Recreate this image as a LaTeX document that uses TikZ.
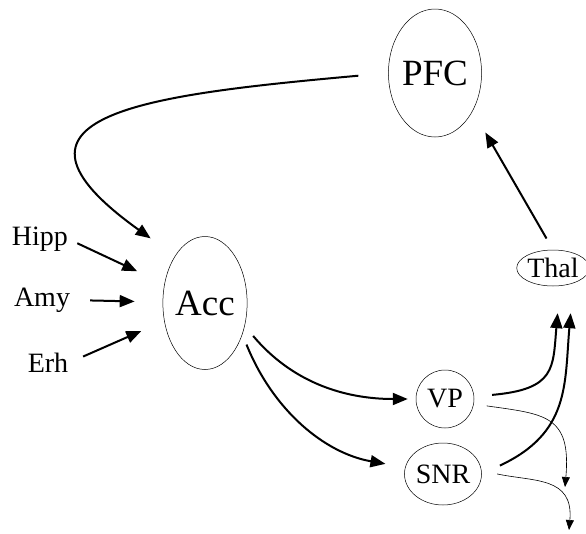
\documentclass[tikz,border=0pt]{standalone}
\usepackage{fontspec}
\setmainfont{Liberation Serif}
\usetikzlibrary{shapes.geometric,arrows.meta}

\begin{document}
\begin{tikzpicture}
[x=1pt,y=1pt,
  regiondecorate/.style={shape=ellipse,draw,line width=0.5pt,inner sep=0pt},
  bigfont/.style={font=\fontsize{37}{40}\selectfont},
  smallfont/.style={font=\fontsize{28}{30}\selectfont},
  linedecorate/.style={-{Triangle[length=15pt,width=12pt]},line width=2pt},
  thinlinedecorate/.style={-{Triangle[length=10pt,width=8pt]},line width=0.6pt}]
\useasboundingbox (0,0) rectangle (586,-533);
%% nodes or vertices
\foreach \nodename/\x/\y/\w/\h/\fontstyle in {PFC/435/-73/84/128/bigfont,
  Acc/205/-303/80/133/bigfont, Thal/553/-268/64/36/smallfont,
  VP/445/-399/58/58/smallfont, SNR/443/-474/62/62/smallfont}
{
  \node (\nodename) at (\x,\y) [regiondecorate,\fontstyle,minimum width=\w,minimum height=\h] {\nodename};
}
\foreach \nodename/\x/\y in {Hipp/40/-239, Amy/42/-300, Erh/48/-363}
{
  \node (\nodename) at (\x,\y) [smallfont,inner sep=0pt] {\nodename};
}
\coordinate (vpout) at (565,-487);
\coordinate (snrout) at (569,-530);
%% edges or lines
\path
\foreach \startnode/\endnode/\s/\e in {Hipp.east/Acc/10/30, Amy.east/Acc/20/28,
  Erh.east/Acc/16/25, Thal.north/PFC.-45/13/25}
{
  (\startnode) edge[linedecorate,shorten <=\s,shorten >=\e] (\endnode)
};
\draw[linedecorate,shorten <=30,shorten >=30] (PFC.west)
  .. controls +(-243,-22) and +(-197,141) .. (Acc.north west);
\draw[linedecorate,shorten <=13,shorten >=8] (Acc.-30) to[out=-50,in=180] (VP.west);
\draw[linedecorate,shorten <=11,shorten >=20] (Acc.-40) to[out=-68,in=170] (SNR.170);
\draw[linedecorate,shorten <=18,shorten >=27] (VP.5)
  to[out=5,in=-95,looseness=1.5] ([xshift=7]Thal.south);
\draw[linedecorate,shorten <=20,shorten >=27] (SNR.0)
  to[out=25,in=-95,looseness=1.2] ([xshift=20]Thal.south);
\draw[thinlinedecorate,shorten <=13] (VP.-10) to[out=-8,in=85,looseness=1.5] (vpout);
\draw[thinlinedecorate,shorten <=16] (SNR.5) to[out=-12,in=85,looseness=1.3] (snrout);
\end{tikzpicture}
\end{document}
